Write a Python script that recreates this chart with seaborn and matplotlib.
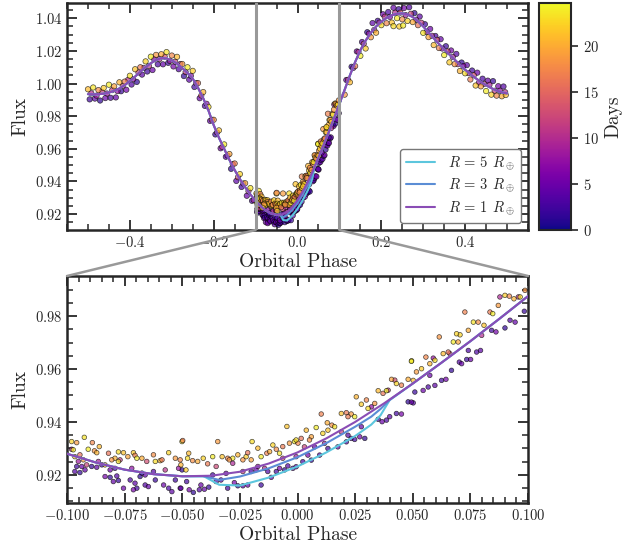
import matplotlib
matplotlib.use('Agg')
import numpy as np
import pandas as pd
import matplotlib.pyplot as plt
import matplotlib.ticker as mticker
from matplotlib.patches import ConnectionPatch
import seaborn as sns

# %% Datos

# curva modelo (R = 1) fuera y dentro de la ventana
model_phase = [-0.5, -0.4875, -0.475, -0.4625, -0.45, -0.4375, -0.425, -0.4125, -0.4, -0.3875, -0.375,
               -0.3625, -0.35, -0.3375, -0.325, -0.3125, -0.3, -0.2875, -0.275, -0.2625, -0.25, -0.2375,
               -0.225, -0.2125, -0.2, -0.1875, -0.175, -0.1625, -0.15, -0.1375, -0.125, -0.1125,
               -0.1, -0.0875, -0.075, -0.0625, -0.05, -0.0375, -0.025, -0.0125, 0.0, 0.0125, 0.025,
               0.0375, 0.05, 0.0625, 0.075, 0.0875, 0.1,
               0.1125, 0.125, 0.1375, 0.15, 0.1625, 0.175, 0.1875, 0.2, 0.2125, 0.225, 0.2375, 0.25,
               0.2625, 0.275, 0.2875, 0.3, 0.3125, 0.325, 0.3375, 0.35, 0.3625, 0.375, 0.3875, 0.4,
               0.4125, 0.425, 0.4375, 0.45, 0.4625, 0.475, 0.4875, 0.5]
model_r1 = [0.9935, 0.9934, 0.9935, 0.9938, 0.9945, 0.9955, 0.9970, 0.9990, 1.0015, 1.0043, 1.0073,
            1.0100, 1.0125, 1.0145, 1.0156, 1.0154, 1.0142, 1.0122, 1.0095, 1.0065, 1.0030, 0.9975,
            0.9910, 0.9835, 0.9745, 0.9668, 0.9600, 0.9532, 0.9470, 0.9414, 0.9365, 0.9320,
            0.9280, 0.9247, 0.9220, 0.9203, 0.9195, 0.9197, 0.9212, 0.9243, 0.9285, 0.9338, 0.9400,
            0.9470, 0.9545, 0.9624, 0.9705, 0.9789, 0.9875,
            0.9962, 1.0050, 1.0132, 1.0205, 1.0263, 1.0312, 1.0350, 1.0380, 1.0403, 1.0419, 1.0428, 1.0430,
            1.0424, 1.0408, 1.0382, 1.0350, 1.0315, 1.0278, 1.0243, 1.0210, 1.0178, 1.0147, 1.0115, 1.0085,
            1.0058, 1.0033, 1.0010, 0.9990, 0.9972, 0.9957, 0.9946, 0.9940]

# tramo del transito para R = 3 y R = 5
transit_phase = [-0.041, -0.040, -0.034, -0.025, -0.0125, 0.0, 0.0125, 0.025, 0.032, 0.036, 0.040]
transit_r5 = [0.9195, 0.9192, 0.9163, 0.9160, 0.9190, 0.9232, 0.9285, 0.9347, 0.9390, 0.9425, 0.9483]
transit_r3 = [0.9195, 0.9194, 0.9181, 0.9194, 0.9225, 0.9267, 0.9320, 0.9382, 0.9420, 0.9449, 0.9483]

# puntos dentro de la ventana (-0.1, 0.1): dias tardios (arriba)
win_hi_phase = [-0.0980, -0.0958, -0.0925, -0.0890, -0.0860, -0.0908, -0.0881, -0.0871, -0.0820, -0.0777,
                -0.0755, -0.0736, -0.0712, -0.0705, -0.0697, -0.0675, -0.0625, -0.0617, -0.0596, -0.0588,
                -0.0559, -0.0530, -0.0501, -0.0509, -0.0792, -0.0777, -0.0806, -0.0835, -0.0944, -0.0966,
                -0.0929, -0.0973,
                -0.0498, -0.0472, -0.0477, -0.0455, -0.0433, -0.0409, -0.0390, -0.0368, -0.0346, -0.0327,
                -0.0303, -0.0281, -0.0259, -0.0237, -0.0223, -0.0216, -0.0197, -0.0201, -0.0172, -0.0158,
                -0.0133, -0.0121, -0.0107, -0.0092, -0.0078, -0.0064, -0.0046, -0.0035, -0.0013, 0.0002,
                -0.0506, -0.0484, -0.0296,
                -0.0006, 0.0016, 0.0038, 0.0060, 0.0081, 0.0103, 0.0110, 0.0129, 0.0149, 0.0161,
                0.0190, 0.0212, 0.0233, 0.0248, 0.0255, 0.0277, 0.0299, 0.0306, 0.0335, 0.0350,
                0.0371, 0.0386, 0.0408, 0.0429, 0.0451, 0.0480, 0.0495, 0.0052, 0.0132, 0.0219,
                0.0494, 0.0516, 0.0538, 0.0557, 0.0574, 0.0596, 0.0615, 0.0632, 0.0654, 0.0676,
                0.0697, 0.0705, 0.0726, 0.0741, 0.0763, 0.0784, 0.0809, 0.0835, 0.0847, 0.0871,
                0.0900, 0.0919, 0.0939, 0.0966, 0.0987, 0.0502, 0.0690]
win_hi_flux = [0.9326, 0.9322, 0.9342, 0.9322, 0.9307, 0.9297, 0.9291, 0.9284, 0.9282, 0.9287,
               0.9284, 0.9269, 0.9284, 0.9274, 0.9263, 0.9263, 0.9276, 0.9251, 0.9254, 0.9257,
               0.9284, 0.9263, 0.9326, 0.9257, 0.9263, 0.9251, 0.9257, 0.9238, 0.9276, 0.9269,
               0.9257, 0.9295,
               0.9330, 0.9282, 0.9263, 0.9254, 0.9251, 0.9263, 0.9242, 0.9269, 0.9326, 0.9269,
               0.9263, 0.9263, 0.9276, 0.9257, 0.9269, 0.9284, 0.9326, 0.9257, 0.9301, 0.9269,
               0.9282, 0.9288, 0.9313, 0.9297, 0.9282, 0.9307, 0.9383, 0.9320, 0.9326, 0.9320,
               0.9238, 0.9219, 0.9257,
               0.9332, 0.9338, 0.9369, 0.9344, 0.9379, 0.9430, 0.9357, 0.9397, 0.9388, 0.9382,
               0.9432, 0.9435, 0.9430, 0.9420, 0.9495, 0.9467, 0.9483, 0.9451, 0.9470, 0.9518,
               0.9508, 0.9518, 0.9561, 0.9545, 0.9539, 0.9561, 0.9631, 0.9332, 0.9369, 0.9420,
               0.9629, 0.9589, 0.9601, 0.9645, 0.9620, 0.9633, 0.9721, 0.9658, 0.9664, 0.9702,
               0.9702, 0.9729, 0.9815, 0.9746, 0.9777, 0.9777, 0.9765, 0.9815, 0.9809, 0.9840,
               0.9878, 0.9875, 0.9865, 0.9872, 0.9897, 0.9557, 0.9733]
win_hi_days = [22.5, 19.0, 23.5, 17.5, 21.0, 24.0, 18.5, 20.5, 16.0, 23.0, 21.5, 19.5, 22.0, 17.0, 24.0, 20.0,
               18.0, 23.0, 21.0, 16.5, 22.5, 19.0, 24.0, 17.5, 20.5, 23.5, 18.5, 21.5, 16.0, 22.0, 19.5, 24.0,
               17.0, 21.0, 23.0, 18.0, 20.0, 22.5, 16.5, 24.0, 19.0, 21.5, 17.5, 23.5, 20.5, 18.5, 22.0, 16.0,
               23.0, 19.5, 21.0, 24.0, 17.0, 20.0, 22.5, 18.0, 23.5, 16.5, 21.5, 19.0, 24.0, 17.5, 20.5, 22.0,
               18.5, 23.0, 16.0, 21.0, 19.5, 24.0, 17.0, 22.5, 20.0, 18.0, 23.5, 21.5, 16.5, 19.0, 24.0, 20.5,
               22.0, 17.5, 23.0, 18.5, 21.0, 16.0, 24.0, 19.5, 22.5, 17.0, 20.0, 23.5, 18.0, 21.5, 16.5, 24.0,
               19.0, 22.0, 17.5, 20.5, 23.0, 18.5, 21.0, 16.0, 24.0, 19.5, 22.5, 17.0, 20.0, 23.5, 18.0, 21.5,
               16.5, 24.0, 19.0, 22.0, 17.5, 20.5, 23.0, 18.5, 21.0, 22.5]

# dias tempranos (abajo)
win_lo_phase = [-0.0966, -0.0944, -0.0922, -0.0958, -0.0936, -0.0893, -0.0871, -0.0849, -0.0835, -0.0813,
                -0.0784, -0.0799, -0.0777, -0.0755, -0.0726, -0.0705, -0.0697, -0.0712, -0.0683, -0.0661,
                -0.0647, -0.0617, -0.0581, -0.0559, -0.0545, -0.0530, -0.0509, -0.0501, -0.0625, -0.0661,
                -0.0675, -0.0813, -0.0792,
                -0.0506, -0.0481, -0.0470, -0.0452, -0.0426, -0.0404, -0.0385, -0.0419, -0.0353, -0.0332,
                -0.0303, -0.0274, -0.0259, -0.0237, -0.0216, -0.0158, -0.0180, -0.0129, -0.0114, -0.0092,
                -0.0078, -0.0056, -0.0042, -0.0020, -0.0368, -0.0310, -0.0201,
                -0.0006, 0.0023, 0.0045, 0.0060, 0.0096, 0.0074, 0.0132, 0.0175, 0.0212, 0.0233,
                0.0248, 0.0270, 0.0292, 0.0219, 0.0277, 0.0350, 0.0367, 0.0386, 0.0400, 0.0429,
                0.0451, 0.0480, 0.0502,
                0.0494, 0.0509, 0.0545, 0.0567, 0.0596, 0.0625, 0.0644, 0.0668, 0.0702, 0.0712,
                0.0734, 0.0751, 0.0777, 0.0794, 0.0842, 0.0861, 0.0900, 0.0922, 0.0944, 0.0984,
                0.0574, 0.0741]
win_lo_flux = [0.9213, 0.9209, 0.9219, 0.9232, 0.9232, 0.9232, 0.9229, 0.9238, 0.9194, 0.9191,
               0.9196, 0.9175, 0.9179, 0.9150, 0.9181, 0.9169, 0.9150, 0.9144, 0.9194, 0.9162,
               0.9156, 0.9181, 0.9162, 0.9150, 0.9137, 0.9181, 0.9150, 0.9219, 0.9213, 0.9200,
               0.9207, 0.9219, 0.9225,
               0.9150, 0.9175, 0.9144, 0.9134, 0.9144, 0.9146, 0.9154, 0.9162, 0.9175, 0.9181,
               0.9150, 0.9171, 0.9159, 0.9159, 0.9162, 0.9162, 0.9219, 0.9213, 0.9191, 0.9213,
               0.9225, 0.9219, 0.9234, 0.9225, 0.9200, 0.9206, 0.9213,
               0.9231, 0.9250, 0.9275, 0.9256, 0.9275, 0.9306, 0.9300, 0.9306, 0.9325, 0.9338,
               0.9334, 0.9344, 0.9338, 0.9350, 0.9382, 0.9410, 0.9401, 0.9407, 0.9420, 0.9432,
               0.9430, 0.9476, 0.9472,
               0.9475, 0.9513, 0.9519, 0.9532, 0.9538, 0.9557, 0.9561, 0.9595, 0.9626, 0.9620,
               0.9636, 0.9636, 0.9664, 0.9670, 0.9746, 0.9740, 0.9755, 0.9784, 0.9777, 0.9818,
               0.9576, 0.9670]
win_lo_days = [3.5, 1.5, 4.5, 2.5, 5.0, 2.0, 4.0, 3.0, 5.5, 1.5, 3.5, 4.5, 2.0, 5.0, 3.0, 4.0,
               2.5, 5.5, 1.5, 3.5, 4.5, 2.0, 5.0, 3.0, 4.0, 2.5, 5.5, 1.5, 3.5, 4.5, 2.0, 5.0,
               3.0, 4.0, 2.5, 5.5, 1.5, 3.5, 4.5, 2.0, 5.0, 3.0, 4.0, 2.5, 5.5, 1.5, 3.5, 4.5,
               2.0, 5.0, 3.0, 4.0, 2.5, 5.5, 1.5, 3.5, 4.5, 2.0, 5.0, 3.0, 4.0, 2.5, 5.5, 1.5,
               3.5, 4.5, 2.0, 5.0, 3.0, 4.0, 2.5, 5.5, 1.5, 3.5, 4.5, 2.0, 5.0, 3.0, 4.0, 2.5,
               5.5, 1.5, 3.5, 4.5, 2.0, 5.0, 3.0, 4.0, 2.5, 5.5, 1.5, 3.5, 4.5, 2.0, 5.0, 3.0,
               4.0, 2.5, 5.5, 1.5, 3.5, 4.5, 2.0, 5.0, 3.0]

# dias intermedios
win_mid_phase = [-0.0980, -0.0951, -0.0915, -0.0864, -0.0770, -0.0719, -0.0654, -0.0574, -0.0516, -0.0353,
                 -0.0281, -0.0237, -0.0172, -0.0143, -0.0064, -0.0006, 0.0030, 0.0117, 0.0190, 0.0321,
                 0.0393, 0.0422, 0.0589, 0.0661, 0.0878, 0.0958, 0.0799]
win_mid_flux = [0.9297, 0.9251, 0.9238, 0.9251, 0.9257, 0.9225, 0.9251, 0.9219, 0.9225, 0.9232,
                0.9244, 0.9213, 0.9232, 0.9225, 0.9263, 0.9269, 0.9306, 0.9319, 0.9363, 0.9457,
                0.9520, 0.9558, 0.9641, 0.9658, 0.9872, 0.9872, 0.9727]
win_mid_days = [10.0, 8.5, 12.0, 9.0, 11.5, 7.5, 13.0, 10.5, 8.0, 12.5, 9.5, 11.0, 7.0, 10.0,
                13.5, 8.5, 12.0, 9.0, 11.5, 7.5, 10.5, 13.0, 8.0, 12.5, 9.5, 11.0, 10.0]

# puntos fuera de la ventana (solo se ven arriba)
out_hi_phase = [-0.5, -0.4875, -0.475, -0.4625, -0.45, -0.4375, -0.425, -0.4125, -0.4, -0.3875, -0.375,
                -0.3625, -0.35, -0.3375, -0.325, -0.3125, -0.3, -0.2875, -0.275, -0.2625, -0.25, -0.2375,
                -0.225, -0.2125, -0.2, -0.1875, -0.175, -0.1625, -0.15, -0.1375, -0.125, -0.1125,
                0.1125, 0.125, 0.1375, 0.15, 0.1625, 0.175, 0.1875, 0.2, 0.2125, 0.225, 0.2375, 0.25,
                0.2625, 0.275, 0.2875, 0.3, 0.3125, 0.325, 0.3375, 0.35, 0.3625, 0.375, 0.3875, 0.4,
                0.4125, 0.425, 0.4375, 0.45, 0.4625, 0.475, 0.4875,
                0.229, 0.243, 0.252, 0.497]
out_hi_flux = [0.9965, 0.9976, 0.9960, 0.9973, 0.9993, 0.9983, 1.0008, 1.0012, 1.0048, 1.0088, 1.0100,
               1.0136, 1.0165, 1.0176, 1.0180, 1.0193, 1.0172, 1.0164, 1.0120, 1.0100, 1.0078, 1.0003,
               0.9948, 0.9857, 0.9778, 0.9713, 0.9627, 0.9568, 0.9510, 0.9445, 0.9389, 0.9359,
               0.9932, 1.0008, 1.0107, 1.0170, 1.0215, 1.0284, 1.0312, 1.0358, 1.0370, 1.0374, 1.0401,
               1.0394, 1.0384, 1.0377, 1.0358, 1.0311, 1.0285, 1.0236, 1.0218, 1.0175, 1.0130, 1.0119,
               1.0077, 1.0063, 1.0025, 0.9988, 0.9983, 0.9954, 0.9932, 0.9926, 0.9922,
               1.0352, 1.0350, 1.0356, 0.9930]
out_hi_days = [21.0, 23.5, 18.0, 22.0, 24.0, 19.5, 20.5, 17.0, 23.0, 21.5, 16.5, 22.5, 24.0, 18.5, 20.0, 23.5,
               17.5, 21.0, 19.0, 24.0, 22.0, 16.0, 20.5, 23.0, 18.0, 21.5, 24.0, 19.5, 17.0, 22.5, 20.0, 23.5,
               18.5, 21.0, 16.5, 24.0, 22.0, 19.0, 20.5, 23.0, 17.5, 21.5, 24.0, 18.0, 22.5, 20.0, 16.0, 23.5,
               19.5, 21.0, 17.0, 24.0, 22.0, 18.5, 20.5, 23.0, 16.5, 21.5, 19.0, 24.0, 22.5, 17.5, 20.0,
               23.0, 22.0, 24.0, 21.0]

out_lo_phase = [-0.496, -0.4835, -0.471, -0.4585, -0.446, -0.4335, -0.421, -0.4085, -0.396, -0.3835,
                -0.371, -0.3585, -0.346, -0.3335, -0.321, -0.3085, -0.296, -0.2835, -0.271, -0.2585,
                -0.246, -0.2335, -0.221, -0.2085, -0.196, -0.1835, -0.171, -0.1585, -0.146, -0.1335,
                -0.121, -0.1085,
                0.1165, 0.129, 0.1415, 0.154, 0.1665, 0.179, 0.1915, 0.204, 0.2165, 0.229, 0.2415,
                0.254, 0.2665, 0.279, 0.2915, 0.304, 0.3165, 0.329, 0.3415, 0.354, 0.3665, 0.379,
                0.3915, 0.404, 0.4165, 0.429, 0.4415, 0.454, 0.4665, 0.479, 0.4915]
out_lo_flux = [0.9903, 0.9908, 0.9896, 0.9911, 0.9913, 0.9915, 0.9953, 0.9962, 0.9994, 1.0010,
               1.0055, 1.0074, 1.0083, 1.0118, 1.0118, 1.0127, 1.0105, 1.0088, 1.0046, 1.0024,
               0.9979, 0.9910, 0.9863, 0.9771, 0.9688, 0.9603, 0.9551, 0.9477, 0.9403, 0.9366,
               0.9312, 0.9281,
               1.0022, 1.0103, 1.0197, 1.0255, 1.0315, 1.0371, 1.0385, 1.0425, 1.0439, 1.0465, 1.0456,
               1.0463, 1.0468, 1.0432, 1.0411, 1.0364, 1.0335, 1.0292, 1.0272, 1.0229, 1.0203, 1.0182,
               1.0129, 1.0113, 1.0080, 1.0067, 1.0030, 1.0018, 1.0015, 0.9984, 0.9982]
out_lo_days = [2.5, 4.0, 1.5, 5.0, 3.0, 4.5, 2.0, 5.5, 3.5, 1.5, 4.0, 2.5, 5.0, 3.0, 4.5, 2.0,
               5.5, 3.5, 1.5, 4.0, 2.5, 5.0, 3.0, 4.5, 2.0, 5.5, 3.5, 1.5, 4.0, 2.5, 5.0, 3.0,
               4.5, 2.0, 5.5, 3.5, 1.5, 4.0, 2.5, 5.0, 3.0, 4.5, 2.0, 5.5, 3.5, 1.5, 4.0, 2.5,
               5.0, 3.0, 4.5, 2.0, 5.5, 3.5, 1.5, 4.0, 2.5, 5.0, 3.0, 4.5, 2.0, 5.5, 3.5]

out_mid_phase = [-0.492, -0.4795, -0.467, -0.4545, -0.442, -0.4295, -0.417, -0.4045, -0.392, -0.3795,
                 -0.367, -0.3545, -0.342, -0.3295, -0.317, -0.3045, -0.292, -0.2795, -0.267, -0.2545,
                 -0.242, -0.2295, -0.217, -0.2045, -0.192, -0.1795, -0.167, -0.1545, -0.142, -0.1295,
                 -0.117, -0.1045,
                 0.1205, 0.133, 0.1455, 0.158, 0.1705, 0.183, 0.1955, 0.208, 0.2205, 0.233, 0.2455,
                 0.258, 0.2705, 0.283, 0.2955, 0.308, 0.3205, 0.333, 0.3455, 0.358, 0.3705, 0.383,
                 0.3955, 0.408, 0.4205, 0.433, 0.4455, 0.458, 0.4705, 0.483, 0.4955]
out_mid_flux = [0.9940, 0.9926, 0.9949, 0.9939, 0.9960, 0.9954, 0.9986, 1.0022, 1.0027, 1.0068,
                1.0096, 1.0108, 1.0149, 1.0150, 1.0165, 1.0139, 1.0134, 1.0120, 1.0071, 1.0048,
                1.0003, 0.9927, 0.9876, 0.9778, 0.9700, 0.9611, 0.9558, 0.9506, 0.9426, 0.9387,
                0.9340, 0.9286,
                1.0023, 1.0096, 1.0194, 1.0244, 1.0306, 1.0329, 1.0374, 1.0410, 1.0409, 1.0434, 1.0435,
                1.0420, 1.0428, 1.0391, 1.0373, 1.0317, 1.0293, 1.0268, 1.0215, 1.0197, 1.0163, 1.0119,
                1.0107, 1.0064, 1.0051, 1.0006, 0.9998, 0.9992, 0.9956, 0.9956, 0.9947]
out_mid_days = [10.0, 8.5, 12.0, 9.0, 11.5, 7.5, 13.0, 10.5, 8.0, 12.5, 9.5, 11.0, 7.0, 10.0, 13.5, 8.5,
                12.0, 9.0, 11.5, 7.5, 10.5, 13.0, 8.0, 12.5, 9.5, 11.0, 7.0, 10.0, 13.5, 8.5, 12.0, 9.0,
                11.5, 7.5, 10.5, 13.0, 8.0, 12.5, 9.5, 11.0, 7.0, 10.0, 13.5, 8.5, 12.0, 9.0, 11.5, 7.5,
                10.5, 13.0, 8.0, 12.5, 9.5, 11.0, 7.0, 10.0, 13.5, 8.5, 12.0, 9.0, 11.5, 7.5, 10.5]

# %% Armado de dataframes

def grupo(ph, fl, d):
    return pd.DataFrame({'phase': ph, 'flux': fl, 'days': d})

puntos = pd.concat([grupo(out_lo_phase, out_lo_flux, out_lo_days),
                    grupo(win_lo_phase, win_lo_flux, win_lo_days),
                    grupo(out_mid_phase, out_mid_flux, out_mid_days),
                    grupo(win_mid_phase, win_mid_flux, win_mid_days),
                    grupo(out_hi_phase, out_hi_flux, out_hi_days),
                    grupo(win_hi_phase, win_hi_flux, win_hi_days)], ignore_index=True)

modelo_r1 = pd.DataFrame({'phase': model_phase, 'flux': model_r1})
# fuera del transito las tres curvas coinciden
fuera = modelo_r1[(modelo_r1['phase'] < transit_phase[0]) | (modelo_r1['phase'] > transit_phase[-1])]
modelo_r5 = pd.concat([fuera, pd.DataFrame({'phase': transit_phase, 'flux': transit_r5})]).sort_values('phase')
modelo_r3 = pd.concat([fuera, pd.DataFrame({'phase': transit_phase, 'flux': transit_r3})]).sort_values('phase')

curvas = [(modelo_r5, '#5cc6dd', r'$R\,=\,5\;\,R_\oplus$'),
          (modelo_r3, '#5b8dd5', r'$R\,=\,3\;\,R_\oplus$'),
          (modelo_r1, '#8a4db5', r'$R\,=\,1\;\,R_\oplus$')]

# %% Grafico

sns.set_style('ticks')
plt.rcParams.update({'font.family': 'serif', 'font.serif': ['cmr10'],
                     'mathtext.fontset': 'cm', 'axes.formatter.use_mathtext': True,
                     'axes.linewidth': 1.8})

dias_max = 24.7
gris = '#999999'

fig = plt.figure(figsize=(6.37, 5.47), dpi=100)
ax_top = fig.add_axes([0.1052, 0.5795, 0.7237, 0.4144])
cax = fig.add_axes([0.8462, 0.5795, 0.0502, 0.4144])
ax_bot = fig.add_axes([0.1052, 0.0804, 0.7237, 0.4150])

# arriba los puntos se ven mas apretados, un poco mas grandes
for ax, tam in [(ax_top, 15), (ax_bot, 11)]:
    sns.scatterplot(data=puntos, x='phase', y='flux', hue='days', palette='plasma',
                    hue_norm=(0, dias_max), s=tam, edgecolor='k', linewidth=0.5,
                    alpha=0.7, legend=False, ax=ax, zorder=2)
    for df, col, lab in curvas:
        sns.lineplot(data=df, x='phase', y='flux', color=col, linewidth=1.5,
                     estimator=None, sort=False, ax=ax, zorder=3,
                     label=lab if ax is ax_top else None)
    ax.set_xlabel('Orbital Phase', fontsize=14, labelpad=2)
    ax.set_ylabel('Flux', fontsize=14)
    ax.tick_params(which='both', direction='in', top=True, right=True, labelsize=10.5)
    ax.tick_params(which='major', length=7, width=1.3)
    ax.tick_params(which='minor', length=4, width=1.1)

# panel de arriba
ax_top.set_xlim(-0.55, 0.55)
ax_top.set_ylim(0.9102, 1.0492)
ax_top.xaxis.set_major_locator(mticker.MultipleLocator(0.2))
ax_top.xaxis.set_minor_locator(mticker.MultipleLocator(0.05))
ax_top.yaxis.set_major_locator(mticker.MultipleLocator(0.02))
ax_top.yaxis.set_minor_locator(mticker.MultipleLocator(0.005))
ax_top.axvline(-0.1, color=gris, lw=2.2, zorder=4)
ax_top.axvline(0.1, color=gris, lw=2.2, zorder=4)
ley = ax_top.legend(loc='lower right', fontsize=10.5, frameon=True, fancybox=True,
                    edgecolor='#777777', framealpha=1, handlelength=2.0,
                    handletextpad=0.9, borderaxespad=0.5, labelspacing=0.35)
ley.get_frame().set_linewidth(1.0)

# panel de abajo (zoom)
ax_bot.set_xlim(-0.1, 0.1)
ax_bot.set_ylim(0.9094, 0.9951)
ax_bot.xaxis.set_major_locator(mticker.MultipleLocator(0.025))
ax_bot.xaxis.set_minor_locator(mticker.MultipleLocator(0.005))
ax_bot.yaxis.set_major_locator(mticker.MultipleLocator(0.02))
ax_bot.yaxis.set_minor_locator(mticker.MultipleLocator(0.005))
if ax_bot.get_legend() is not None:
    ax_bot.get_legend().remove()

# lineas que unen los dos paneles
for xa, xb in [(-0.1, 0), (0.1, 1)]:
    con = ConnectionPatch(xyA=(xa, 0.9102), coordsA=ax_top.transData,
                          xyB=(xb, 1), coordsB=ax_bot.transAxes,
                          color=gris, lw=1.8)
    fig.add_artist(con)

# barra de color
sm = plt.cm.ScalarMappable(cmap='plasma', norm=plt.Normalize(0, dias_max))
cb = fig.colorbar(sm, cax=cax)
cb.set_ticks([0, 5, 10, 15, 20])
cb.set_label('Days', fontsize=14)
cb.outline.set_linewidth(1.5)
cax.tick_params(direction='out', length=5, width=1.2, labelsize=10.5)
cax.minorticks_off()

fig.savefig('out.png', dpi=100)
